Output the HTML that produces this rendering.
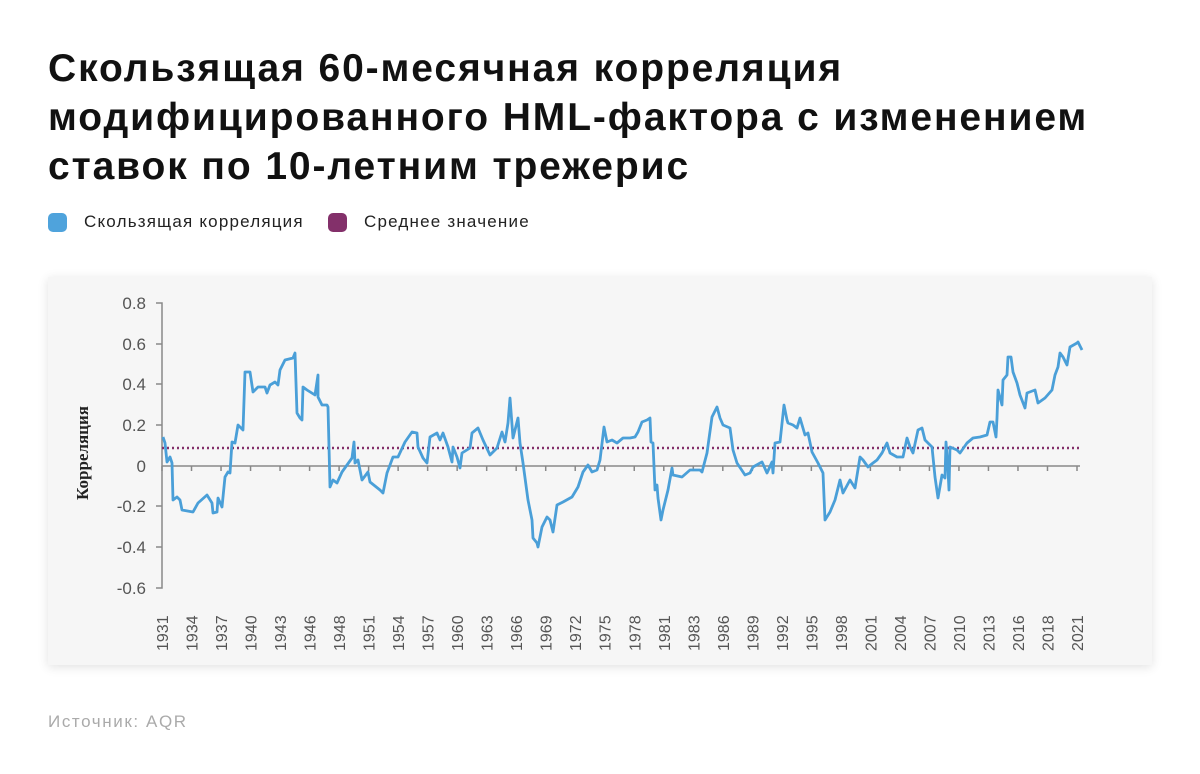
<!DOCTYPE html>
<html><head><meta charset="utf-8"><style>
body{margin:0;width:1200px;height:774px;background:#fff;font-family:"Liberation Sans",sans-serif;overflow:hidden;position:relative}
h1{position:absolute;left:48px;top:44px;margin:0;font-size:39px;line-height:49px;font-weight:bold;color:#111;letter-spacing:1.9px;white-space:nowrap}
.leg{position:absolute;top:212px;font-size:17px;color:#222;display:flex;align-items:center;letter-spacing:1.2px}
.sq{width:19px;height:19px;border-radius:5px;margin-right:17px}
.card{position:absolute;left:48px;top:277px;width:1104px;height:388px;background:#f6f6f6;box-shadow:0 2px 10px rgba(0,0,0,0.12)}
.src{position:absolute;left:48px;top:712px;font-size:17px;color:#aaa;letter-spacing:1.6px}
</style></head><body>
<h1>Скользящая 60-месячная корреляция<br>модифицированного HML-фактора с изменением<br>ставок по 10-летним трежерис</h1>
<div class="leg" style="left:48px"><div class="sq" style="background:#4fa3dc"></div>Скользящая корреляция</div>
<div class="leg" style="left:328px"><div class="sq" style="background:#83306a"></div>Среднее значение</div>
<div class="card"></div>
<svg width="1200" height="774" style="position:absolute;left:0;top:0" font-family="Liberation Sans, sans-serif">
<g fill="#555" font-size="17" text-anchor="end">
<text x="146" y="309">0.8</text><text x="146" y="350">0.6</text><text x="146" y="390">0.4</text><text x="146" y="431">0.2</text><text x="146" y="472">0</text><text x="146" y="512">-0.2</text><text x="146" y="553">-0.4</text><text x="146" y="594">-0.6</text>
</g>
<g stroke="#888" stroke-width="1.5" fill="none">
<path d="M156 303H162V588H156M156 344H162M156 384H162M156 425H162M156 506H162M156 547H162"/>
<line x1="162" y1="466" x2="1080" y2="466"/>
</g>
<g id="ticks" stroke="#888" stroke-width="1.5"></g>
<g id="xl" fill="#555" font-size="16"></g>
<text transform="translate(88,453) rotate(-90)" text-anchor="middle" font-family="Liberation Serif, serif" font-weight="bold" font-size="17" fill="#222">Корреляция</text>
<line x1="162" y1="448" x2="1082" y2="448" stroke="#83306a" stroke-width="2.5" stroke-dasharray="2 3"/>
<polyline fill="none" stroke="#4a9fd8" stroke-width="2.8" stroke-linejoin="round" points="163,437 165,443 167,462 170,457 172,463 173,500 177,497 180,500 182,510 193,512 198,503 207,495 212,503 213,513 217,512 218,498 222,507 225,477 228,472 230,473 232,442 235,443 238,425 243,430 245,372 250,372 253,392 258,387 265,387 267,393 270,385 275,382 278,385 280,370 285,360 293,358 295,353 297,413 300,418 302,420 303,387 307,390 315,395 318,375 318,397 322,405 327,405 328,407 330,487 333,480 337,483 342,472 347,465 352,458 354,442 355,463 358,460 362,480 368,472 370,482 380,490 383,493 387,473 393,457 398,457 405,442 412,432 417,433 418,447 423,458 427,463 430,437 437,433 440,440 443,433 448,447 452,462 453,447 457,457 460,468 462,453 470,448 472,433 478,428 483,440 490,455 497,448 502,432 505,442 508,423 510,398 513,438 518,418 520,443 523,463 528,500 532,520 533,538 537,543 538,547 542,527 547,517 550,520 553,532 557,505 563,502 572,497 578,487 583,472 588,465 592,472 597,470 600,460 604,427 607,442 612,440 617,443 623,438 630,438 635,437 638,432 642,422 647,420 650,418 651,442 653,443 655,490 657,485 658,498 661,520 663,510 668,490 672,468 673,475 682,477 690,470 700,470 702,472 707,453 712,417 717,407 720,418 723,425 730,428 733,450 737,463 745,475 750,473 753,467 762,462 767,473 772,462 773,473 775,443 780,442 784,405 787,420 788,423 793,425 797,428 800,418 805,435 808,433 812,452 818,463 823,473 825,520 830,512 835,500 840,480 843,493 850,480 855,488 860,457 863,460 868,467 873,463 877,460 882,453 887,443 890,453 897,457 903,457 907,438 910,447 913,453 918,430 922,428 925,440 932,447 935,477 938,498 942,475 945,478 946,442 948,470 949,490 950,447 957,450 960,453 967,443 973,438 980,437 987,435 990,422 993,422 996,437 997,418 998,390 1002,405 1003,380 1007,375 1008,357 1011,357 1013,372 1017,383 1020,395 1025,408 1027,393 1035,390 1038,403 1045,398 1052,390 1055,375 1058,367 1060,353 1063,357 1067,365 1070,347 1077,343 1078,342 1082,350"/>
</svg>
<div class="src">Источник: AQR</div>
<script>
var yrs=[1931,1934,1937,1940,1943,1946,1948,1951,1954,1957,1960,1963,1966,1969,1972,1975,1978,1981,1983,1986,1989,1992,1995,1998,2001,2004,2007,2010,2013,2016,2018,2021];
var t=document.getElementById('ticks'),xl=document.getElementById('xl'),ns='http://www.w3.org/2000/svg';
var step=(1077-162)/(yrs.length-1);
yrs.forEach(function(y,i){var x=162+i*step;
var l=document.createElementNS(ns,'line');l.setAttribute('x1',x);l.setAttribute('x2',x);l.setAttribute('y1',466);l.setAttribute('y2',471);t.appendChild(l);
var tx=document.createElementNS(ns,'text');tx.setAttribute('transform','translate('+(x+6)+',651) rotate(-90)');tx.textContent=y;xl.appendChild(tx);});
</script>
</body></html>
